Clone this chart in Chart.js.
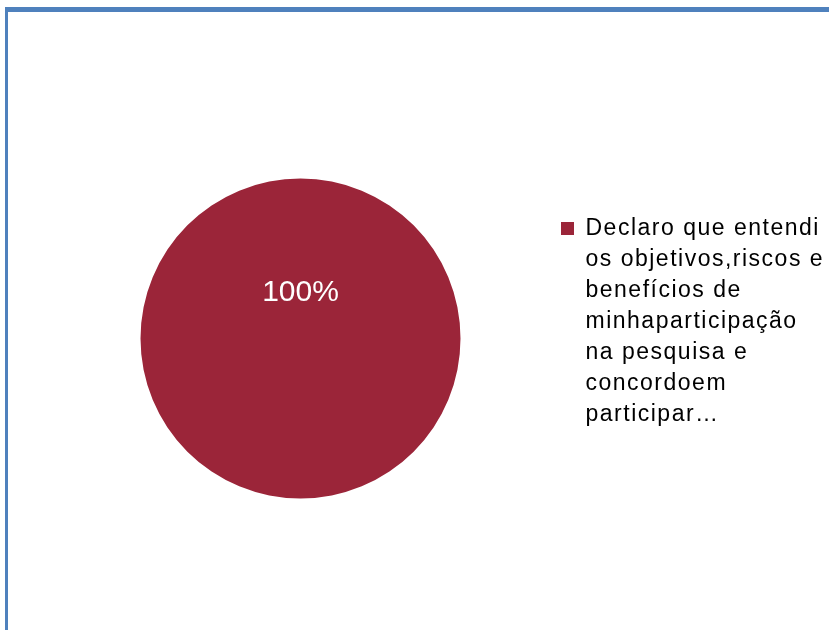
<!DOCTYPE html>
<html>
<head>
<meta charset="utf-8">
<title>Consentimento</title>
<script src="https://cdn.jsdelivr.net/npm/chart.js@4.4.1/dist/chart.umd.min.js"></script>
<style>
    html, body {
        margin: 0;
        padding: 0;
        background: #fff;
        overflow: hidden;
    }

    .frame {
        position: absolute;
        left: 5px;
        top: 7px;
        width: 900px;
        height: 700px;
        border-left: 3px solid #4f81bd;
        border-top: 5px solid #4f81bd;
        pointer-events: none;
    }

    .chartBox {
        position: relative;
        width: 829px;
        height: 630px;
    }
</style>
</head>
<body>
<div class="chartBox">
    <canvas id="myPieChart"></canvas>
</div>
<div class="frame"></div>

<script>
    const categories = [
        'Declaro que entendi os objetivos,riscos e benefícios de minhaparticipação na pesquisa e concordoem participar…'
    ];
    // how the legend text breaks into lines
    const legendLines = [
        'Declaro que entendi',
        'os objetivos,riscos e',
        'benefícios de',
        'minhaparticipação',
        'na pesquisa e',
        'concordoem',
        'participar…'
    ];
    const answers = [100];
    const sliceColors = ['#9b2539'];

    const fontFamily = '"Liberation Sans", Arial, Helvetica, sans-serif';

    // legend text is drawn a bit spread out
    const legendSpacing = {
        id: 'legendSpacing',
        beforeLayout(chart) {
            chart.ctx.letterSpacing = '1.5px';
        },
        beforeDraw(chart) {
            chart.ctx.letterSpacing = '1.5px';
        },
        beforeDatasetsDraw(chart) {
            chart.ctx.letterSpacing = '0px';
        }
    };

    // percentage written on the slice
    const percentLabel = {
        id: 'percentLabel',
        afterDatasetsDraw(chart) {
            const ctx = chart.ctx;
            const meta = chart.getDatasetMeta(0);
            const values = chart.data.datasets[0].data;
            const total = values.reduce((a, b) => a + b, 0);
            ctx.save();
            ctx.letterSpacing = '0px';
            ctx.font = '30px ' + fontFamily;
            ctx.fillStyle = '#ffffff';
            ctx.textAlign = 'center';
            ctx.textBaseline = 'middle';
            meta.data.forEach((arc, i) => {
                const p = arc.getProps(['x', 'y', 'outerRadius']);
                const pct = Math.round(values[i] / total * 100) + '%';
                ctx.fillText(pct, p.x, p.y - p.outerRadius * 0.285);
            });
            ctx.restore();
        }
    };

    const config = {
        type: 'pie',
        data: {
            labels: categories,
            datasets: [{
                data: answers,
                backgroundColor: sliceColors,
                borderWidth: 0,
                radius: 160
            }]
        },
        options: {
            responsive: true,
            maintainAspectRatio: false,
            animation: false,
            layout: {
                padding: { left: 50, top: 207, bottom: 160, right: 0 }
            },
            plugins: {
                tooltip: { enabled: false },
                legend: {
                    position: 'right',
                    align: 'start',
                    maxWidth: 278,
                    labels: {
                        boxWidth: 13,
                        boxHeight: 13,
                        padding: 10,
                        color: '#000',
                        font: { family: fontFamily, size: 23, lineHeight: 31 / 23 },
                        generateLabels(chart) {
                            return [{
                                text: legendLines,
                                fillStyle: sliceColors[0],
                                strokeStyle: sliceColors[0],
                                lineWidth: 0,
                                hidden: false,
                                index: 0
                            }];
                        }
                    }
                }
            }
        },
        plugins: [legendSpacing, percentLabel]
    };

    const ctx = document.getElementById('myPieChart').getContext('2d');
    new Chart(ctx, config);
</script>
</body>
</html>
